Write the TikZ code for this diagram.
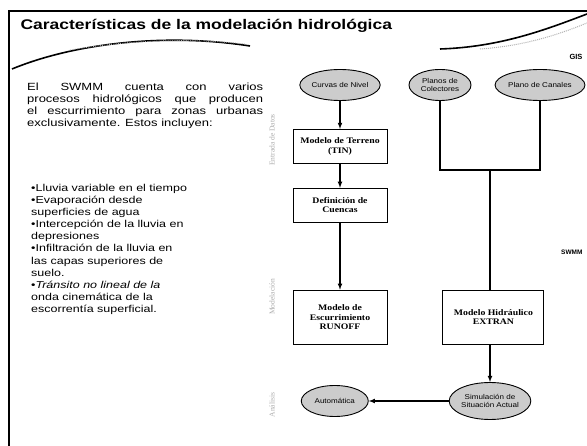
\documentclass[tikz,border=0pt]{standalone}
\usepackage{fontspec}
\setmainfont{Liberation Sans}
\newfontfamily\slidefont[FakeStretch=1.25]{Liberation Sans}
\newfontfamily\ovalfont[FakeStretch=1.15]{Liberation Sans}
\newfontfamily\boxfont[FakeStretch=1.15]{Liberation Serif}
\newfontfamily\phasefont{Liberation Serif}
\usepackage{tikz}
\usetikzlibrary{shapes,arrows,positioning}

\begin{document}
\begin{tikzpicture}[
    x=1pt, y=-1pt,
    oval/.style={draw, ellipse, fill=gray!40, line width=0.9pt, inner sep=0pt,
                 font=\ovalfont\fontsize{7}{8}\selectfont, align=center},
    stage/.style={draw, rectangle, line width=0.9pt, inner sep=0pt,
                  minimum width=94pt, minimum height=34pt,
                  font=\boxfont\bfseries\fontsize{8.5}{9.5}\selectfont, align=center},
    phase/.style={rotate=90, text=gray!65, font=\phasefont\fontsize{7.5}{8}\selectfont},
    arrow/.style={-latex, line width=1.1pt},
    link/.style={line width=1.1pt},
    node distance=24pt and 55pt
]
\useasboundingbox (0,0) rectangle (587,446);
\clip (0,0) rectangle (587,446);
\fill[white] (0,0) rectangle (587,446);

% Slide frame and swooshes
\draw[line width=2pt] (9,446) -- (9,11) -- (587,11);
\draw[line width=1.6pt] (12,69) .. controls (70,45) and (160,32) .. (250,46);
\draw[gray!60, densely dotted, line width=0.8pt] (70,50) .. controls (130,40) and (190,38) .. (245,44);
\draw[line width=1.6pt] (440,49) .. controls (500,47) and (545,30) .. (587,14);
\draw[gray!60, densely dotted, line width=1pt] (480,49) .. controls (525,46) and (560,34) .. (587,23);

% Left side: text
\node[anchor=west, font=\slidefont\bfseries\fontsize{14}{16}\selectfont] (titulo) at (17,26)
  {Características de la modelación hidrológica};
\node[anchor=north west, inner sep=0pt, align=left,
      font=\slidefont\fontsize{10.4}{12}\selectfont] (intro) at (27,83)
  {\makebox[236pt][s]{El SWMM cuenta con varios}\\
   \makebox[236pt][s]{procesos hidrológicos que producen}\\
   \makebox[236pt][s]{el escurrimiento para zonas urbanas}\\
   exclusivamente. Estos incluyen:};
\node[anchor=north west, inner sep=0pt, align=left,
      font=\slidefont\fontsize{10}{12.1}\selectfont] (procesos) at (31,184)
  {•Lluvia variable en el tiempo\\
   •Evaporación desde\\
   superficies de agua\\
   •Intercepción de la lluvia en\\
   depresiones\\
   •Infiltración de la lluvia en\\
   las capas superiores de\\
   suelo.\\
   •{\itshape Tránsito no lineal de la}\\
   onda cinemática de la\\
   escorrentía superficial.};

% Right side: flow of the model
\node[phase] (entrada) at (272,140) {Entrada de Datos};
\node[phase] (modelacion) at (272,297) {Modelación};
\node[phase] (analisis) at (272,405) {Análisis};
\node[anchor=east, font=\bfseries\fontsize{7.5}{9}\selectfont] (gis) at (586,57) {GIS};
\node[anchor=east, font=\bfseries\fontsize{6.5}{9}\selectfont] (swmm) at (586,252) {SWMM};

\node[oval, minimum width=68pt, minimum height=31pt] (curvas) at (340,85) {Curvas de Nivel};
\node[oval, minimum width=62pt, minimum height=31pt] (colectores) at (440,85) {Planos de\\Colectores};
\node[oval, minimum width=64pt, minimum height=31pt] (canales) at (540,85) {Plano de Canales};
\node[stage, below=28pt of curvas] (terreno) {Modelo de Terreno\\(TIN)};
\node[stage, below=of terreno] (cuencas) {Definición de\\Cuencas};
\node[stage, minimum height=54pt, below=67pt of cuencas] (runoff) {Modelo de\\Escurrimiento\\RUNOFF};
\node[stage, minimum height=54pt, minimum width=101pt, right=of runoff] (extran) {Modelo Hidráulico\\EXTRAN};
\coordinate (junta) at (490,170);
\node[oval, minimum width=68pt, minimum height=37pt] (simulacion) at (490,401) {Simulación de\\Situación Actual};
\node[oval, minimum width=67pt, minimum height=31pt, left=80pt of simulacion] (automatica) {Automática};

\draw[arrow] (curvas) -- (terreno);
\draw[arrow] (terreno) -- (cuencas);
\draw[arrow] (cuencas) -- (runoff);
\draw[link] (colectores) |- (junta) -| (canales);
\draw[link] (junta) -- (junta |- extran.north);
\draw[arrow] (simulacion |- extran.south) -- (simulacion);
\draw[arrow] (simulacion) -- (automatica);

\end{tikzpicture}
\end{document}
